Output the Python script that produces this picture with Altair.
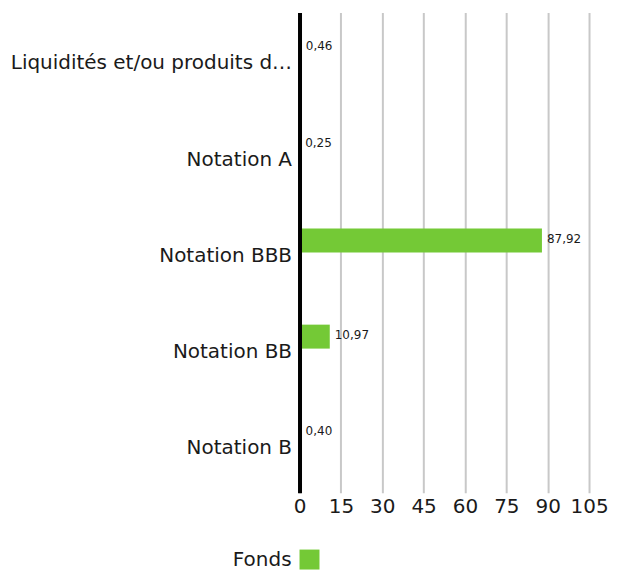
import altair as alt
import pandas as pd

categories = ["Liquidités et/ou produits dérivés", "Notation A", "Notation BBB", "Notation BB", "Notation B"]
values = [0.46, 0.25, 87.92, 10.97, 0.40]
series = ["Fonds"] * 5

df = pd.DataFrame({
    "cat": categories,
    "val": values,
    "serie": series,
    "label": [f"{v:.2f}".replace(".", ",") for v in values],
})

FONT = "DejaVu Sans"
GREEN = "#74C936"
INK = "#1a1a1a"

y_enc = alt.Y("cat:N", sort=categories, title=None,
              scale=alt.Scale(paddingInner=0, paddingOuter=0),
              axis=alt.Axis(domain=True, domainColor="#000000", domainWidth=4,
                            ticks=False, labelFontSize=20, labelFont=FONT,
                            labelColor=INK, labelLimit=292, labelPadding=8,
                            labelOffset=3, grid=False, zindex=1))
x_enc = alt.X("val:Q", title=None,
              scale=alt.Scale(domain=[0, 105], nice=False),
              axis=alt.Axis(values=[0, 15, 30, 45, 60, 75, 90, 105], domain=False,
                            ticks=False, grid=True, gridColor="#c8c8c8", gridWidth=2,
                            labelFontSize=20, labelFont=FONT, labelColor=INK,
                            labelPadding=4, labelFlush=False))

bars = alt.Chart(df).mark_bar(height=24, yOffset=-12).encode(
    x=x_enc, y=y_enc,
    color=alt.Color("serie:N", scale=alt.Scale(range=[GREEN]),
                    legend=alt.Legend(title=None, orient="none", legendX=0, legendY=538,
                                      symbolType="square", symbolSize=400,
                                      symbolStrokeWidth=0, labelAlign="right",
                                      labelOffset={"expr": "-28"}, labelFontSize=20,
                                      labelFont=FONT, labelColor=INK)),
)

texts = alt.Chart(df).mark_text(align="left", baseline="middle", dx=5, yOffset=-14,
                                fontSize=12, font=FONT, color=INK).encode(
    x="val:Q", y=alt.Y("cat:N", sort=categories), text="label:N")

chart = alt.layer(bars, texts).properties(
    width=290, height=481,
    padding={"left": 2, "top": 4, "right": 0, "bottom": 0},
).configure_view(stroke=None)

chart.save("out.html", embed_options={"renderer": "svg", "actions": False})
